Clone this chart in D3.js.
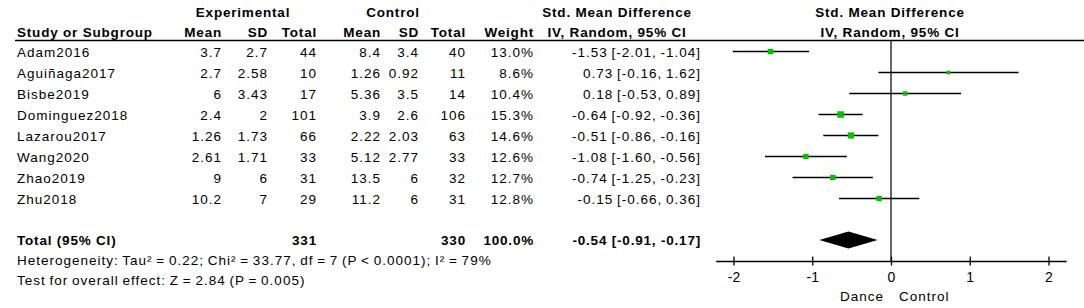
<!DOCTYPE html>
<meta charset="utf-8">
<script src="https://d3js.org/d3.v7.min.js"></script>
<style>
  body { margin: 0; background: #fff; }
  text { font-family: "Liberation Sans", Arial, sans-serif; font-size: 13.5px; letter-spacing: 1px; word-spacing: -1px; fill: #000; }
  .b { font-weight: bold; letter-spacing: 0.8px; word-spacing: 0px; }
</style>
<div id="my_dataviz"></div>
<script>

// study data
var studies  = ["Adam2016", "Aguiñaga2017", "Bisbe2019", "Dominguez2018", "Lazarou2017", "Wang2020", "Zhao2019", "Zhu2018"];
var expMean  = ["3.7", "2.7", "6", "2.4", "1.26", "2.61", "9", "10.2"];
var expSD    = ["2.7", "2.58", "3.43", "2", "1.73", "1.71", "6", "7"];
var expN     = [44, 10, 17, 101, 66, 33, 31, 29];
var ctlMean  = ["8.4", "1.26", "5.36", "3.9", "2.22", "5.12", "13.5", "11.2"];
var ctlSD    = ["3.4", "0.92", "3.5", "2.6", "2.03", "2.77", "6", "6"];
var ctlN     = [40, 11, 14, 106, 63, 33, 32, 31];
var weight   = [13.0, 8.6, 10.4, 15.3, 14.6, 12.6, 12.7, 12.8];
var smd      = [-1.53, 0.73, 0.18, -0.64, -0.51, -1.08, -0.74, -0.15];
var lower    = [-2.01, -0.16, -0.53, -0.92, -0.86, -1.60, -1.25, -0.66];
var upper    = [-1.04, 1.62, 0.89, -0.36, -0.16, -0.56, -0.23, 0.36];

// pooled result
var total = {expN: 331, ctlN: 330, weight: 100.0, smd: -0.54, lower: -0.91, upper: -0.17};
var axisTicks = [-2, -1, 0, 1, 2];

var width = 1084, height = 308;

var svg = d3.select("#my_dataviz")
  .append("svg")
    .attr("width", width)
    .attr("height", height);

var f2 = function(v) { return v.toFixed(2); };

// rows
var rowY = d3.scaleLinear().domain([0, 7]).range([51.5, 198.5]);
var totalY = 240;

// forest x scale
var x = d3.scaleLinear().domain([-2, 2]).range([733.5, 1048.5]);

// header
svg.append("text").attr("class", "b").attr("x", 243).attr("y", 17).attr("text-anchor", "middle").text("Experimental");
svg.append("text").attr("class", "b").attr("x", 393).attr("y", 17).attr("text-anchor", "middle").text("Control");
svg.append("text").attr("class", "b").attr("x", 617).attr("y", 17).attr("text-anchor", "middle").text("Std. Mean Difference");
svg.append("text").attr("class", "b").attr("x", 890).attr("y", 17).attr("text-anchor", "middle").text("Std. Mean Difference");

var heads = [
  {t: "Study or Subgroup", x: 17, a: "start"},
  {t: "Mean", x: 222, a: "end"},
  {t: "SD", x: 268, a: "end"},
  {t: "Total", x: 317, a: "end"},
  {t: "Mean", x: 381, a: "end"},
  {t: "SD", x: 419, a: "end"},
  {t: "Total", x: 466, a: "end"},
  {t: "Weight", x: 534, a: "end"},
  {t: "IV, Random, 95% CI", x: 617, a: "middle"},
  {t: "IV, Random, 95% CI", x: 890, a: "middle"}
];
svg.selectAll("text.head")
  .data(heads)
  .enter()
  .append("text")
    .attr("class", "b head")
    .attr("x", function(d) { return d.x; })
    .attr("y", 37)
    .attr("text-anchor", function(d) { return d.a; })
    .text(function(d) { return d.t; });

svg.append("line")
  .attr("x1", 15).attr("x2", 1084)
  .attr("y1", 40.5).attr("y2", 40.5)
  .attr("stroke", "black").attr("stroke-width", 1.3);

// table columns
var cols = [
  {x: 17, a: "start", f: function(i) { return studies[i]; }},
  {x: 222, a: "end", f: function(i) { return expMean[i]; }},
  {x: 268, a: "end", f: function(i) { return expSD[i]; }},
  {x: 317, a: "end", f: function(i) { return expN[i]; }},
  {x: 381, a: "end", f: function(i) { return ctlMean[i]; }},
  {x: 419, a: "end", f: function(i) { return ctlSD[i]; }},
  {x: 466, a: "end", f: function(i) { return ctlN[i]; }},
  {x: 534, a: "end", f: function(i) { return weight[i].toFixed(1) + "%"; }},
  {x: 701, a: "end", f: function(i) { return f2(smd[i]) + " [" + f2(lower[i]) + ", " + f2(upper[i]) + "]"; }}
];

studies.forEach(function(s, i) {
  cols.forEach(function(c) {
    svg.append("text")
      .attr("x", c.x)
      .attr("y", rowY(i) + 5)
      .attr("text-anchor", c.a)
      .text(c.f(i));
  });
});

// total row
var totRow = [
  {x: 17, a: "start", t: "Total (95% CI)"},
  {x: 317, a: "end", t: total.expN},
  {x: 466, a: "end", t: total.ctlN},
  {x: 534, a: "end", t: total.weight.toFixed(1) + "%"},
  {x: 701, a: "end", t: f2(total.smd) + " [" + f2(total.lower) + ", " + f2(total.upper) + "]"}
];
totRow.forEach(function(d) {
  svg.append("text").attr("class", "b")
    .attr("x", d.x).attr("y", totalY + 5)
    .attr("text-anchor", d.a).text(d.t);
});

svg.append("text").attr("x", 17).attr("y", 265)
  .text("Heterogeneity: Tau\u00b2 = 0.22; Chi\u00b2 = 33.77, df = 7 (P < 0.0001); I\u00b2 = 79%");
svg.append("text").attr("x", 17).attr("y", 285)
  .text("Test for overall effect: Z = 2.84 (P = 0.005)");

// forest plot
var axisY = 261.5;

svg.append("line")
  .attr("x1", x(0)).attr("x2", x(0))
  .attr("y1", 40).attr("y2", axisY)
  .attr("stroke", "black").attr("stroke-width", 1.2);

// CI lines
svg.selectAll("line.ci")
  .data(smd)
  .enter()
  .append("line")
    .attr("class", "ci")
    .attr("x1", function(d, i) { return x(lower[i]); })
    .attr("x2", function(d, i) { return x(upper[i]); })
    .attr("y1", function(d, i) { return rowY(i); })
    .attr("y2", function(d, i) { return rowY(i); })
    .attr("stroke", "black")
    .attr("stroke-width", 1.4);

// squares, sized by weight
var side = d3.scaleLinear().domain([0, 15.3]).range([0, 6.5]);
svg.selectAll("rect.sq")
  .data(smd)
  .enter()
  .append("rect")
    .attr("class", "sq")
    .attr("x", function(d, i) { return x(d) - side(weight[i]) / 2; })
    .attr("y", function(d, i) { return rowY(i) - side(weight[i]) / 2; })
    .attr("width", function(d, i) { return side(weight[i]); })
    .attr("height", function(d, i) { return side(weight[i]); })
    .style("fill", "#00c000");

// diamond
svg.append("path")
  .attr("d", "M" + x(total.lower) + "," + totalY +
             "L" + x(total.smd) + "," + (totalY - 8.5) +
             "L" + x(total.upper) + "," + totalY +
             "L" + x(total.smd) + "," + (totalY + 8.5) + "Z")
  .style("fill", "black");

// axis
var ax = svg.append("g")
  .attr("transform", "translate(0," + axisY + ")")
  .call(d3.axisBottom(x).tickValues(axisTicks).tickSize(4).tickPadding(7).tickFormat(d3.format("d")));
ax.select(".domain").remove();
ax.selectAll(".tick line").attr("y1", -5).attr("y2", 4).attr("stroke-width", 1.3);
ax.selectAll(".tick text")
  .style("font-family", "Liberation Sans, Arial, sans-serif")
  .style("font-size", "14px")
  .style("letter-spacing", "0px")
  .text(function(d) { return d < 0 ? "-" + Math.abs(d) : d; });
ax.append("line")
  .attr("x1", x(-2.22)).attr("x2", x(2.23))
  .attr("stroke", "black").attr("stroke-width", 1.3);

svg.append("text").attr("x", 884).attr("y", 301).attr("text-anchor", "end").text("Dance");
svg.append("text").attr("x", 899).attr("y", 301).attr("text-anchor", "start").text("Control");

</script>
